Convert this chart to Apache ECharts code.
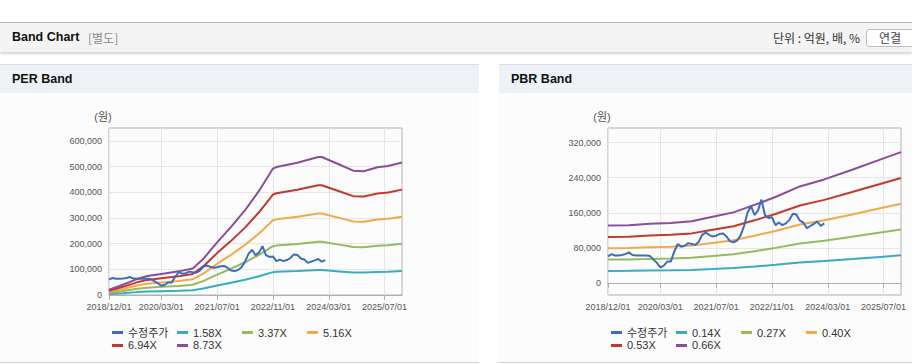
<!DOCTYPE html>
<html>
<head>
<meta charset="utf-8">
<script src="https://cdn.jsdelivr.net/npm/echarts@6/dist/echarts.min.js"></script>
<style>
  html, body { margin:0; padding:0; background:#fff; width:912px; height:364px; overflow:hidden;
    font-family:"Liberation Sans", Arial, "Noto Sans CJK KR", sans-serif; }
  .abs { position:absolute; }
  #hdr { left:0; top:22px; width:912px; height:29px; border-top:1px solid #b4b4b4; background:#f4f4f4;
    box-shadow:0 2px 2px rgba(0,0,0,0.16); }
  #hdrTitle { left:12px; top:0; line-height:29px; font-size:12.5px; font-weight:bold; color:#111; }
  #hdrSub { left:88px; top:0; line-height:29px; font-size:12px; color:#8a8a8a; font-family:"Noto Sans CJK KR", sans-serif; }
  #unit { right:52px; top:0; line-height:29px; font-size:12px; color:#333; font-family:"Noto Sans CJK KR", sans-serif; }
  #btn { left:866px; top:6px; width:48px; height:18px; box-sizing:border-box; border:1px solid #bdbdbd; border-radius:3px;
    background:#fff; text-align:center; line-height:16px; font-size:12px; color:#444; font-family:"Noto Sans CJK KR", sans-serif; }
  .ph { top:64px; height:28px; border-top:1px solid #d9dde3; background:#eef1f6; }
  .ph span { position:absolute; left:12px; top:0; line-height:28px; font-size:12.5px; font-weight:bold; color:#111; }
  .pb { top:93px; height:269px; background:#fcfcfc; border-bottom:1px solid #cfcfcf; }
</style>
</head>
<body>
<div id="hdr" class="abs">
  <span id="hdrTitle" class="abs">Band Chart</span>
  <span id="hdrSub" class="abs">[별도]</span>
  <span id="unit" class="abs">단위 : 억원, 배, %</span>
  <div id="btn" class="abs">연결</div>
</div>
<div class="abs ph" style="left:0;width:479px;"><span>PER Band</span></div>
<div class="abs ph" style="left:499px;width:413px;"><span>PBR Band</span></div>
<div class="abs pb" style="left:0;width:479px;"><div id="per" style="width:479px;height:269px;"></div></div>
<div class="abs pb" style="left:499px;width:413px;"><div id="pbr" style="width:413px;height:269px;"></div></div>
<script>
// ---------- data ----------
const tickLabels = ['2018/12/01','2020/03/01','2021/07/01','2022/11/01','2024/03/01','2025/07/01'];
const months = [];
for (let i = 0; i < 85; i++) {
  const t = 11 + i;
  months.push((2018 + Math.floor(t / 12)) + '/' + String(t % 12 + 1).padStart(2, '0') + '/01');
}
// adjusted share price (수정주가), monthly from 2018/12
const price = [61000,66000,63000,63000,64000,66000,70000,64000,63000,63000,63000,63000,62000,54000,46000,36000,
  40000,49000,49000,72000,89000,83000,85000,91000,89000,87000,94000,110000,115000,110000,106000,108000,112000,113000,
  106000,95000,93000,97000,108000,130000,160000,176000,155000,165000,190000,155000,148000,150000,132000,138000,
  132000,136000,144000,158000,156000,142000,138000,125000,130000,135000,140000,130000,136000];

// PER bands
const perNames = ['1.58X','3.37X','5.16X','6.94X','8.73X'];
const perDates = ['2018/12/01','2019/04/01','2019/08/01','2019/11/01','2020/03/01','2020/08/01','2020/12/01','2021/03/01',
  '2021/07/01','2021/11/01','2022/03/01','2022/07/01','2022/11/01','2022/12/01','2023/06/01','2023/12/01','2024/01/01',
  '2024/06/01','2024/10/01','2025/01/01','2025/05/01','2025/08/01','2025/12/01'];
const per158 = [3800,7200,11200,13400,14800,16700,18600,25300,37100,48000,59700,73300,89000,90100,93200,97200,97200,91900,87600,87200,90000,90900,93400];
const per337 = [8100,15400,23900,28600,31700,35500,39800,54000,79100,102300,127400,156300,189900,192200,198800,207300,207300,196100,186800,186100,191900,193800,199200];
const per516 = [12400,23600,36700,43700,48500,54400,60900,82800,121200,156600,195100,239400,290800,294400,304400,317400,317400,300300,286100,284900,293800,296700,305000];
const per694 = [16700,31800,49300,58800,65200,73100,81900,111300,163000,210700,262300,322000,391100,395900,409400,426900,426900,403800,384800,383200,395100,399100,410200];
const per873 = [21000,40000,62000,74000,82000,92000,103000,140000,205000,265000,330000,405000,492000,498000,515000,537000,537000,508000,484000,482000,497000,502000,516000];
const perTicks = [0,100000,200000,300000,400000,500000,600000];

// PBR bands
const pbrNames = ['0.14X','0.27X','0.40X','0.53X','0.66X'];
const pbrDates = ['2018/12/01','2019/06/01','2019/12/01','2020/06/01','2020/12/01','2021/06/01','2021/12/01','2022/06/01',
  '2022/12/01','2023/07/01','2024/02/01','2024/10/01','2025/06/01','2025/12/01'];
const pbr014 = [27800,27900,28600,29100,29900,32000,34200,37800,41600,46700,50100,54700,59600,63200];
const pbr027 = [53600,53800,55200,56100,57700,61800,65900,72800,80200,90000,96500,105500,115000,121900];
const pbr040 = [79400,79700,81800,83000,85500,91500,97600,107900,118800,133300,143000,156400,170300,180600];
const pbr053 = [105200,105600,108400,110000,113200,121300,129300,142900,157400,176700,189500,207200,225700,239300];
const pbr066 = [131000,131500,135000,137000,141000,151000,161000,178000,196000,220000,236000,258000,281000,298000];
const pbrTicks = [0,80000,160000,240000,320000];

// ---------- chart ----------
const colors = ['#3b6dbf','#36adc3','#95bb5b','#f3a947','#c2392d','#8b4c9c'];
const FONT = '"Liberation Sans", Arial, "Noto Sans CJK KR", sans-serif';
const isTick = (idx, val) => tickLabels.indexOf(val) >= 0;

function makeOption(names, dates, bands, yMin, yMax, yTicks) {
  const series = [{
    name: '수정주가', type: 'line', data: price, symbol: 'none', z: 5,
    lineStyle: { width: 2, color: colors[0] }, itemStyle: { color: colors[0] }
  }];
  bands.forEach((vals, k) => {
    series.push({
      name: names[k], type: 'line', symbol: 'none', z: 3,
      data: dates.map((d, j) => [d, vals[j]]),
      lineStyle: { width: 2, color: colors[k + 1] }, itemStyle: { color: colors[k + 1] }
    });
  });
  return {
    animation: false,
    color: colors,
    textStyle: { fontFamily: FONT },
    grid: { left: 109, top: 35, width: 293, height: 167, show: true, borderColor: '#b0b0b0', borderWidth: 1,
      backgroundColor: 'transparent' },
    legend: {
      data: ['수정주가'].concat(names), left: 107, top: 229, width: 262, orient: 'horizontal',
      icon: 'rect', itemWidth: 11, itemHeight: 3, itemGap: 2,
      formatter: '{n|{name}}',
      textStyle: { color: '#333', fontSize: 11, fontFamily: FONT,
        rich: { n: { width: 47, fontSize: 11, color: '#333', lineHeight: 11, fontFamily: FONT } } }
    },
    xAxis: {
      type: 'category', data: months, boundaryGap: false,
      axisLine: { show: true, lineStyle: { color: '#b0b0b0' } },
      axisTick: { show: true, length: 5, interval: isTick, lineStyle: { color: '#b0b0b0' } },
      axisLabel: { interval: isTick, fontSize: 9, color: '#555', margin: 7, fontFamily: FONT },
      splitLine: { show: true, interval: isTick, lineStyle: { color: '#e6e6e6' } }
    },
    yAxis: {
      type: 'value', min: yMin, max: yMax,
      name: '(원)', nameLocation: 'end', nameGap: 6,
      nameTextStyle: { color: '#555', fontSize: 11, padding: [0, 12, 0, 0], fontFamily: FONT },
      axisLine: { show: false },
      axisTick: { show: false, customValues: yTicks },
      axisLabel: { customValues: yTicks, fontSize: 9, color: '#555', margin: 7, fontFamily: FONT },
      splitLine: { show: true, lineStyle: { color: '#e6e6e6' } }
    },
    series: series
  };
}

const perChart = echarts.init(document.getElementById('per'), null, { renderer: 'svg' });
perChart.setOption(makeOption(perNames, perDates, [per158, per337, per516, per694, per873], 0, 650000, perTicks));
const pbrChart = echarts.init(document.getElementById('pbr'), null, { renderer: 'svg' });
pbrChart.setOption(makeOption(pbrNames, pbrDates, [pbr014, pbr027, pbr040, pbr053, pbr066], -27000, 353000, pbrTicks));
</script>
</body>
</html>
